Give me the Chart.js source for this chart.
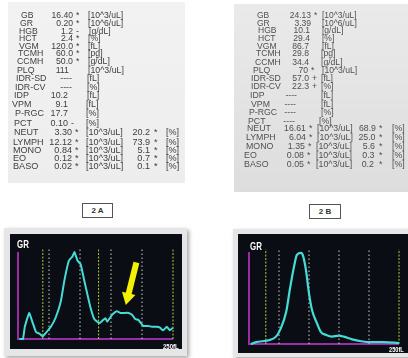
<!DOCTYPE html>
<html><head><meta charset="utf-8">
<script src="https://cdn.jsdelivr.net/npm/chart.js@4.4.1/dist/chart.umd.min.js"></script>
<style>
html,body{margin:0;padding:0;background:#fff;}
#root{position:relative;width:408px;height:358px;overflow:hidden;font-family:"Liberation Sans",Arial,sans-serif;background:#fff;}
.panel{position:absolute;}
#panelA{left:8px;top:2px;width:177px;height:181px;background:linear-gradient(180deg,#f2f2f2,#ededed);}
#panelB{left:234px;top:4px;width:174px;height:188px;background:linear-gradient(180deg,#eaeaea,#dddddd);}
.t{position:absolute;white-space:nowrap;line-height:10px;height:10px;filter:blur(0.2px);}
.box{position:absolute;border:1px solid #555;font-size:8px;color:#333;text-align:center;font-weight:bold;box-sizing:border-box;}
.bezel{position:absolute;background:#e6e6e6;box-shadow:2px 2px 4px rgba(0,0,0,0.35);}
.screen{position:absolute;background:#0b0d14;}
.screen canvas{position:absolute;left:0;top:0;}
.lbl{position:absolute;color:#fff;font-weight:bold;white-space:nowrap;transform-origin:left top;}
</style>
</head>
<body>
<div id="root">
  <div class="panel" id="panelA"></div>
  <div class="panel" id="panelB"></div>
  <div class="box" style="left:82px;top:203px;width:31px;height:15px;line-height:13px;">2 A</div>
  <div class="box" style="left:309px;top:204px;width:32px;height:15px;line-height:13px;">2 B</div>
  <div class="bezel" style="left:4px;top:228px;width:183px;height:128px;"></div>
  <div class="screen" style="left:10px;top:234px;width:172px;height:115px;"><canvas id="cA" width="172" height="115"></canvas></div>
  <div class="bezel" style="left:233px;top:229px;width:185px;height:128px;"></div>
  <div class="screen" style="left:238px;top:234px;width:170px;height:119px;"><canvas id="cB" width="170" height="119"></canvas></div>
  <div class="lbl" style="left:17px;top:238px;font-size:11px;transform:scaleX(0.72);">GR</div>
  <div class="lbl" style="left:163px;top:342px;font-size:7.5px;transform:scaleX(0.8);">250fL</div>
  <div class="lbl" style="left:250px;top:240px;font-size:11px;transform:scaleX(0.72);">GR</div>
  <div class="lbl" style="left:389px;top:345px;font-size:7.5px;transform:scaleX(0.75);">250fL</div>
</div>
<script>
// ---------- DATA ----------
const labels = ['GB','GR','HGB','HCT','VGM','TCMH','CCMH','PLQ','IDR-SD','IDR-CV','IDP','VPM','P-RGC','PCT','NEUT','LYMPH','MONO','EO','BASO'];
const units = ['[10^3/uL]','[10^6/uL]','[g/dL]','[%]','[fL]','[pg]','[g/dL]','[10^3/uL]','[fL]','[%]','[fL]','[fL]','[%]','[%]','[10^3/uL]','[10^3/uL]','[10^3/uL]','[10^3/uL]','[10^3/uL]'];
const valuesA = ['16.40','0.20','1.2','2.4','120.0','60.0','50.0','111','----','----','10.2','9.1','17.7','0.10','3.30','12.12','0.84','0.12','0.02'];
const flagsA = ['*','*','-','*','*','*','*','','','','','','','-','*','*','*','*','*'];
const pctA = ['20.2','73.9','5.1','0.7','0.1'];
const pctFlagsA = ['*','*','*','*','*'];
const valuesB = ['24.13','3.39','10.1','29.4','86.7','29.8','34.4','70','57.0','22.3','----','----','----','----','16.61','6.04','1.35','0.08','0.05'];
const flagsB = ['*','','','','','','','*','+','+','','','','','*','*','*','*','*'];
const pctB = ['68.9','25.0','5.6','0.3','0.2'];
const pctFlagsB = ['*','*','*','*','*'];
const pctUnit = '[%]';

// histogram 2A (x: fL, y: relative count)
const histA_fL  = [2,8,11,18,24,29,35,40,45,53,61,69,75,82,88,91,96,101,106,112,117,123,131,136,141,144,152,159,165,178,184,189,194,202,210,216,224,229,234,240,245,250];
const histA_cnt = [0,0,14,30,18,8,6,3,7,14,25,43,68,90,95,100,90,86,70,51,36,23,18,21,24,20,28,32,30,30,28,23,22,15,15,14,14,13,10,14,10,13];
// histogram 2B
const histB_fL  = [3,12,22,33,45,53,62,68,75,80,87,90,95,100,105,113,120,128,138,150,158,172,187,203,225,250];
const histB_cnt = [0,2,3,4,8,17,35,59,84,97,99,96,80,55,37,23,13,10,8,9,8,5,3,2,2,1];
// discriminator lines (fL)
const discA = [40,50,100,130,150,200,250];
const discAKind = ['g','w','w','g','w','w','g'];
const discB = [28,50,100,150,200,250];
const discBKind = ['g','w','w','w','w','g'];
// arrow on 2A (fL, relative count): tail -> head
const arrowA_fL = [191,177];
const arrowA_y = [88,48];

// ---------- LAYOUT ----------
const yA = [15,23,31,38,46,53,61,70,78,87,95,104,113,123,132,142,150,158,166];
const lxA = [21,20,19,19,19,18,17,17,16,15,14,12,15,14,14,13,13,13,13];
const vrA = [73,73,73,73,73,73,73,69,72,72,68,68,68,68,72,72,72,72,72];
const uxA = [88,88,89,88,88,88,88,88,87,87,87,86,86,86,86,86,86,86,86];
const yB = [15,23,30,38,46,53,62,70,78,86,95,104,112,121,128,137,146,155,164];
const lxB = [257,257,258,258,257,256,255,253,251,251,250,251,249,248,247,246,246,244,244];
const vrB = [311,311,310,310,309,309,309,308,309,309,297,296,296,295,306,306,305,304,304];
const uxB = [322,322,322,322,322,321,321,322,321,321,321,321,321,319,317,317,316,316,316];

const root = document.getElementById('root');
function addText(txt, x, y, align, size, color){
  if(!txt) return;
  const d = document.createElement('div');
  d.className = 't';
  d.textContent = txt;
  d.style.top = (y - 5) + 'px';
  if(align === 'right') d.style.right = (408 - x) + 'px'; else d.style.left = x + 'px';
  d.style.fontSize = size + 'px';
  d.style.color = color;
  root.appendChild(d);
}
const cA = '#3e3e3e', cB = '#505050';
labels.forEach((lab, i) => {
  const sA = 8.6 + i * 0.03;
  addText(lab, lxA[i], yA[i], 'left', sA, cA);
  addText(valuesA[i], vrA[i], yA[i], 'right', sA, cA);
  addText(flagsA[i], vrA[i] + 3, yA[i], 'left', sA, cA);
  addText(units[i], uxA[i], yA[i], 'left', sA, cA);
  const sB = 8.5 + i * 0.02;
  addText(lab, lxB[i], yB[i], 'left', sB, cB);
  addText(valuesB[i], vrB[i], yB[i], 'right', sB, cB);
  addText(flagsB[i], vrB[i] + 3, yB[i], 'left', sB, cB);
  addText(units[i], uxB[i], yB[i], 'left', sB, cB);
});
pctA.forEach((v, k) => {
  const i = 14 + k, s = 8.6 + i * 0.03;
  addText(v, 150, yA[i], 'right', s, cA);
  addText(pctFlagsA[k], 154, yA[i], 'left', s, cA);
  addText(pctUnit, 166, yA[i], 'left', s, cA);
});
pctB.forEach((v, k) => {
  const i = 14 + k, s = 8.5 + i * 0.02;
  addText(v, 376 - k * 0.5, yB[i], 'right', s, cB);
  addText(pctFlagsB[k], 379, yB[i], 'left', s, cB);
  addText(pctUnit, 392, yB[i], 'left', s, cB);
});

// ---------- CHARTS ----------
const axesPlugin = {
  id: 'purpleAxes',
  beforeDatasetsDraw(chart){
    const {ctx, chartArea:{left, right, top, bottom}} = chart;
    ctx.save();
    ctx.strokeStyle = '#9a2ca6';
    ctx.lineWidth = 2;
    ctx.beginPath();
    ctx.moveTo(left, top);
    ctx.lineTo(left, bottom);
    ctx.lineTo(right, bottom);
    ctx.stroke();
    ctx.restore();
  }
};
function makeHist(id, xs, ys, disc, kinds, pad, mode, width, extra){
  const datasets = [];
  disc.forEach((x, i) => {
    datasets.push({
      data: [{x: x, y: 0}, {x: x, y: 103}],
      borderColor: kinds[i] === 'g' ? '#a6cf3c' : '#cfcfcf',
      borderWidth: 1, borderDash: kinds[i] === 'g' ? [2,1.5] : [1.5,2.5],
      pointRadius: 0, clip: false, order: 5
    });
  });
  datasets.push({
    data: xs.map((x, i) => ({x: x, y: ys[i]})),
    borderColor: '#45dcd6', borderWidth: width, pointRadius: 0,
    tension: mode === 'smooth' ? 0.4 : 0.1,
    cubicInterpolationMode: mode === 'smooth' ? 'monotone' : 'default',
    clip: false, order: 1, borderJoinStyle: 'round'
  });
  (extra || []).forEach(d => datasets.push(d));
  return new Chart(document.getElementById(id), {
    type: 'line',
    data: { datasets },
    options: {
      responsive: false, animation: false, devicePixelRatio: 1, events: [],
      layout: { padding: pad },
      plugins: { legend: {display: false}, tooltip: {enabled: false}, title: {display: false} },
      scales: {
        x: { type: 'linear', min: 0, max: 250, display: false },
        y: { type: 'linear', min: 0, max: 100, display: false }
      }
    },
    plugins: [axesPlugin]
  });
}
const arrowSets = [
  { data: arrowA_fL.map((x, i) => ({x: x, y: arrowA_y[i]})),
    borderColor: '#f2f200', borderWidth: 6, borderCapStyle: 'butt', pointRadius: 0, clip: false, order: -1 },
  { data: [{x: arrowA_fL[1], y: arrowA_y[1]}],
    showLine: false, pointStyle: 'triangle', pointRadius: 8, rotation: 194,
    pointBackgroundColor: '#f2f200', pointBorderColor: '#f2f200', pointBorderWidth: 0, clip: false, order: -2 }
];
makeHist('cA', histA_fL, histA_cnt, discA, discAKind, {left: 7, right: 9, top: 18, bottom: 10}, 'poly', 2, arrowSets);
makeHist('cB', histB_fL, histB_cnt, discB, discBKind, {left: 11, right: 9, top: 18, bottom: 9}, 'smooth', 2.2);
</script>
</body></html>
